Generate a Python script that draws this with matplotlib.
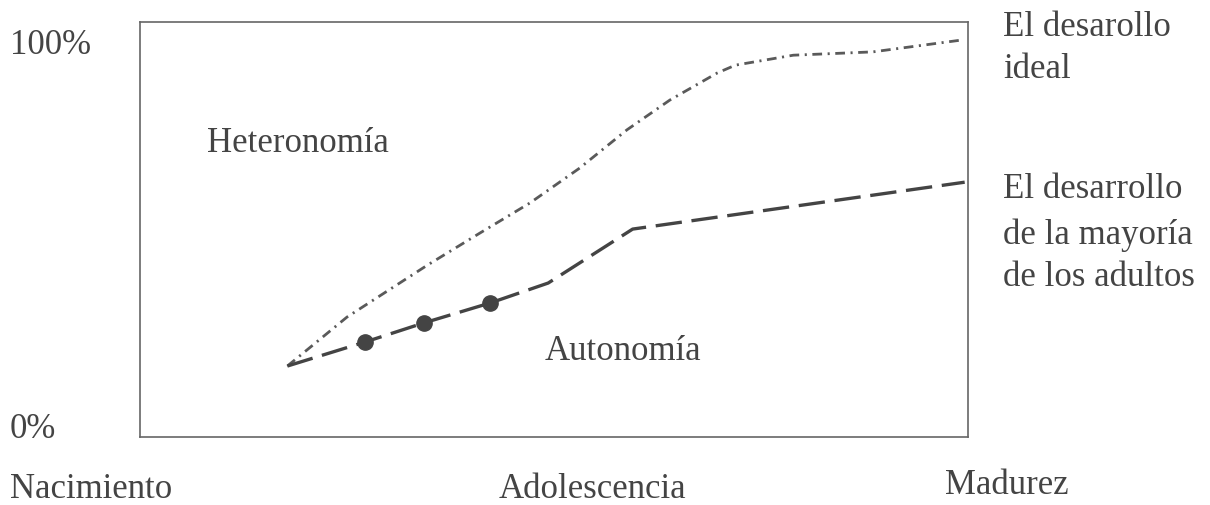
import matplotlib
matplotlib.use("Agg")
import matplotlib.pyplot as plt

plt.rcParams['font.family'] = ['Liberation Serif', 'DejaVu Serif']
plt.rcParams['lines.scale_dashes'] = False

# curve for ideal development (% of the way from birth to maturity, % autonomy)
ideal_x = [17.8, 25.0, 34.7, 41.1, 47.1, 53.1, 58.8, 64.0, 69.7, 71.9, 78.9, 88.5, 99.4]
ideal_y = [17.1, 28.9, 41.4, 49.2, 56.4, 64.8, 74.0, 81.2, 87.7, 89.6, 92.0, 92.8, 95.7]

# curve for most adults
adults_x = [17.8, 27.2, 34.3, 42.3, 49.3, 59.5, 99.6]
adults_y = [17.1, 22.9, 27.5, 32.3, 37.1, 50.1, 61.4]
dot_idx = [1, 2, 3]

txt = "#444444"
W, H = 1210, 505
fs = 25

fig = plt.figure(figsize=(12.1, 5.05), dpi=100)
ax = fig.add_axes([140 / W, 68 / H, 828 / W, 415 / H])
ax.set_xlim(0, 100)
ax.set_ylim(0, 100)
ax.set_xticks([])
ax.set_yticks([])
for s in ax.spines.values():
    s.set_color("#666666")
    s.set_linewidth(1.2)

ax.plot(ideal_x, ideal_y, color="#5a5a5a", lw=2.0, dashes=(7, 4, 1.5, 4))
ax.plot(adults_x, adults_y, color="#444444", lw=2.4, dashes=(19, 7))
ax.plot([adults_x[i] for i in dot_idx], [adults_y[i] for i in dot_idx],
        "o", color="#444444", ms=11)

# labels inside the box
ax.text((207 - 140) / 828 * 100, (437 - 143) / 415 * 100, "Heteronomía",
        fontsize=fs, color=txt, va="center", ha="left")
ax.text((545 - 140) / 828 * 100, (437 - 352) / 415 * 100, "Autonomía",
        fontsize=fs, color=txt, va="center", ha="left")

def ftext(x, y, s, **kw):
    fig.text(x / W, 1 - y / H, s, fontsize=fs, color=txt, va="center", **kw)

ftext(10, 45, "100%", ha="left")
ftext(10, 430, "0%", ha="left")
ftext(10, 490, "Nacimiento", ha="left")
ftext(592, 490, "Adolescencia", ha="center")
ftext(945, 485, "Madurez", ha="left")
ftext(1003, 28, "El desarollo", ha="left")
ftext(1003, 70, "ideal", ha="left")
ftext(1003, 190, "El desarrollo", ha="left")
ftext(1003, 235, "de la mayoría", ha="left")
ftext(1003, 278, "de los adultos", ha="left")

fig.savefig("out.png", dpi=100)
